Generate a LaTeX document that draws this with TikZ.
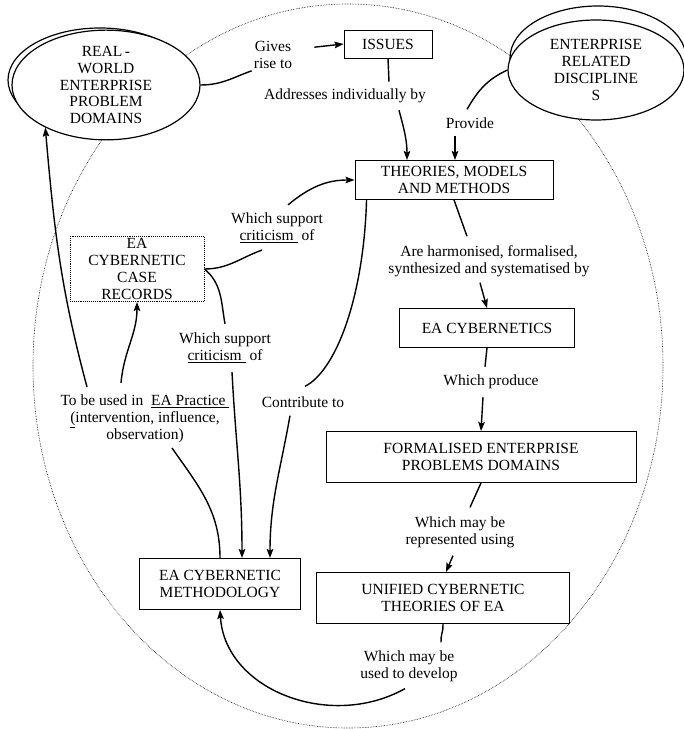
\documentclass[tikz,border=0pt]{standalone}
\usepackage{fontspec}
\setmainfont{Liberation Serif}
\usetikzlibrary{arrows.meta, shapes.geometric, calc}

\begin{document}
\begin{tikzpicture}[x=1pt, y=1pt, >={Stealth[length=9pt, width=6.5pt, inset=1.5pt]},
    font=\fontsize{15.5}{16.8}\selectfont,
    box/.style={draw, line width=0.9pt, align=center, inner sep=2pt},
    blob/.style={ellipse, draw, fill=white, line width=1.2pt, align=center, inner sep=0pt},
    lbl/.style={align=center, inner sep=2pt},
    link/.style={line width=1.4pt}]
  \useasboundingbox (0,0) rectangle (684,729);

  % dotted boundary and the shadow rims of the two ellipses
  \draw[densely dotted, line width=0.6pt] (348,363) ellipse (315 and 362);
  \draw[line width=1.2pt] (100,649) ellipse (92 and 52);
  \draw[line width=1.2pt] (598,671) ellipse (88 and 52);

  \node[blob, minimum width=188pt, minimum height=106pt] (rw) at (106,644) {REAL\,-\\WORLD\\ENTERPRISE\\PROBLEM\\DOMAINS};
  \node[blob, minimum width=176pt, minimum height=100pt] (erd) at (596,659) {ENTERPRISE\\RELATED\\DISCIPLINE\\S};

  \node[box, minimum width=88pt, minimum height=28pt] (issues) at (388,685) {ISSUES};
  \node[box, minimum width=198pt, minimum height=39pt] (tmm) at (454,549) {THEORIES, MODELS\\AND METHODS};
  \node[box, densely dotted, minimum width=134pt, minimum height=65pt] (ecr) at (137,460) {EA\\CYBERNETIC\\CASE\\RECORDS};
  \node[box, minimum width=175pt, minimum height=39pt] (eac) at (487,401) {EA CYBERNETICS};
  \node[box, minimum width=310pt, minimum height=51pt] (fepd) at (481,272) {FORMALISED ENTERPRISE\\PROBLEMS DOMAINS};
  \node[box, minimum width=253pt, minimum height=51pt] (ucte) at (443,131) {UNIFIED CYBERNETIC\\THEORIES OF EA};
  \node[box, minimum width=161pt, minimum height=51pt] (ecm) at (220,145) {EA CYBERNETIC\\METHODOLOGY};

  % link labels
  \node[lbl] (gives) at (273,674) {Gives\\rise to};
  \node[lbl] (addr) at (345,633) {Addresses individually by};
  \node[lbl] (prov) at (470,606) {Provide};
  \node[lbl] (sup1) at (277,501) {Which support\\\underline{criticism\ }\ of};
  \node[lbl] (harm) at (489,468) {Are harmonised, formalised,\\synthesized and systematised by};
  \node[lbl] (prod) at (491,347) {Which produce};
  \node[lbl] (sup2) at (225,381) {Which support\\\underline{criticism\ }\ of};
  \node[lbl] (contr) at (303,327) {Contribute to};
  \node[lbl] (used) at (145,310) {To be used in\ \ \underline{EA Practice\ }\\\underline{(}intervention, influence,\\observation)};
  \node[lbl] (repr) at (460,197) {Which may be\\represented using};
  \node[lbl] (dev) at (409,63) {Which may be\\used to develop};

  % Gives rise to
  \draw[link] (rw.east) to[out=0, in=200] (gives.south west);
  \draw[link, ->] ([xshift=20pt, yshift=-8pt]gives.north east) -- (issues.west);

  % Addresses individually by
  \draw[link] (issues.south) -- ([xshift=44pt, yshift=5pt]addr.north);
  \draw[link, ->] ([xshift=54pt, yshift=-5pt]addr.south) to[out=-75, in=90] ([xshift=-47pt]tmm.north);

  % Provide
  \draw[link] (erd.west) to[out=205, in=60] ([xshift=-3pt, yshift=6pt]prov.north);
  \draw[link, ->] ([xshift=-15pt, yshift=-5pt]prov.south) -- ([xshift=1pt]tmm.north);

  % criticism, both ways out of the case records
  \draw[link] (ecr.east) to[out=0, in=200] ([xshift=-15pt, yshift=-5pt]sup1.south);
  \draw[link, ->] ([xshift=11pt, yshift=6pt]sup1.north) to[out=40, in=180] (tmm.west);
  \draw[link] (ecr.east) to[out=-40, in=100] ([yshift=7pt]sup2.north);
  \draw[link, ->] ([xshift=7pt, yshift=-7pt]sup2.south) to[out=-87, in=90] ([xshift=22pt]ecm.north);

  % Contribute to
  \draw[link] ([xshift=12pt]tmm.south west) .. controls +(-3,-100) and +(30,15) .. ([xshift=2pt, yshift=8pt]contr.north);
  \draw[link, ->] ([xshift=-13pt, yshift=-6pt]contr.south) to[out=-100, in=90] ([xshift=50pt]ecm.north);

  % To be used in EA Practice
  \draw[link] (ecm.north) to[out=90, in=-55] ([xshift=27pt, yshift=-3pt]used.south);
  \draw[link, ->] ([xshift=-58pt, yshift=6pt]used.north) to[out=105, in=-85] (rw.215);
  \draw[link, ->] ([xshift=-24pt, yshift=10pt]used.north) to[out=85, in=-90] (ecr.south);

  % the main chain down the right
  \draw[link] (tmm.south) -- ([xshift=-22pt, yshift=7pt]harm.north);
  \draw[link, ->] ([xshift=-9pt, yshift=-4pt]harm.south) -- (eac.north);
  \draw[link] (eac.south) -- ([xshift=-6pt, yshift=6pt]prod.north);
  \draw[link, ->] ([xshift=-8pt, yshift=-6pt]prod.south) -- (fepd.north);
  \draw[link] (fepd.south) -- ([xshift=10pt, yshift=7pt]repr.north);
  \draw[link, ->] ([xshift=-7pt, yshift=-6pt]repr.south) -- ([xshift=3pt]ucte.north);
  \draw[link] (ucte.south) to[out=-85, in=95] ([xshift=32pt, yshift=6pt]dev.north);
  \draw[link, ->] ([xshift=-4pt, yshift=-5pt]dev.south) .. controls +(-75,-42) and +(5,-80) .. (ecm.south);
\end{tikzpicture}
\end{document}
